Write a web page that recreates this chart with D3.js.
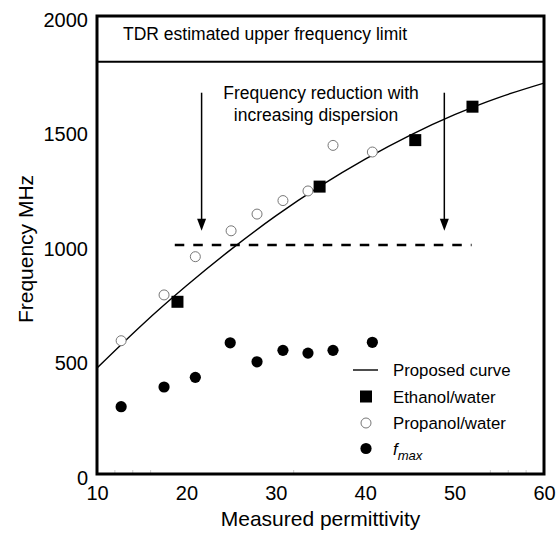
<!DOCTYPE html>
<html>
<head>
<meta charset="utf-8">
<script src="https://cdn.jsdelivr.net/npm/d3@7"></script>
<style>
  html, body { margin: 0; padding: 0; background: #fff; }
  svg { display: block; font-family: "Liberation Sans", Arial, Helvetica, sans-serif; }
</style>
</head>
<body>
<svg id="chart" width="560" height="537"></svg>
<script>
// ---- data ----
const xTicks = [10, 20, 30, 40, 50, 60];
const yTicks = [0, 500, 1000, 1500, 2000];
const xMinorTicks = [12, 14, 16, 32, 54, 56, 58];

// Proposed curve
const curveX = [10, 15, 20, 25, 30, 35, 40, 45, 50, 55, 60];
const curveY = [463, 650, 822, 981, 1127, 1258, 1375, 1479, 1569, 1645, 1707];

// Ethanol/water
const ethanolX = [19.0, 34.9, 45.6, 52.0];
const ethanolY = [752, 1255, 1458, 1604];

// Propanol/water
const propanolX = [12.7, 17.5, 21.0, 25.0, 27.9, 30.8, 33.6, 36.4, 40.8];
const propanolY = [582, 782, 949, 1062, 1135, 1194, 1236, 1435, 1406];

// f_max
const fmaxX = [12.7, 17.5, 21.0, 24.9, 27.9, 30.8, 33.6, 36.4, 40.8];
const fmaxY = [294, 380, 422, 573, 490, 540, 528, 540, 575];

// annotations
const tdrLimit = 1800;
const dashLevel = 1000;
const dashRange = [18.7, 51.9];
const arrowX = [21.7, 48.85];
const arrowTop = 1665;
const arrowTip = 1062;
const legendLabels = ["Proposed curve", "Ethanol/water", "Propanol/water", "f"];

// ---- layout ----
const W = 560, H = 537;
const margin = {left: 97, top: 16, right: 16, bottom: 63};
const svg = d3.select("#chart");
const x = d3.scaleLinear().domain([10, 60]).range([margin.left, W - margin.right]);
const y = d3.scaleLinear().domain([0, 2000]).range([H - margin.bottom, margin.top]);

const FS_TICK = 20, FS_TITLE = 21, FS_ANN = 17.5, FS_LEG = 16.8;

// clip
svg.append("clipPath").attr("id", "plotclip").append("rect")
  .attr("x", x(10)).attr("y", y(2000)).attr("width", x(60) - x(10)).attr("height", y(0) - y(2000));

// ---- axes ----
const yAxis = svg.append("g").attr("transform", `translate(${x(10)},0)`)
  .call(d3.axisLeft(y).tickValues(yTicks).tickSize(0).tickPadding(9).tickFormat(d3.format("d")));
yAxis.select(".domain").remove();
yAxis.selectAll("text").attr("font-size", FS_TICK).attr("font-family", "Liberation Sans, Arial, sans-serif")
  .attr("fill", "#000").attr("dy", "0.5em");

const xAxis = svg.append("g").attr("transform", `translate(0,${y(0)})`)
  .call(d3.axisBottom(x).tickValues(xTicks).tickSize(0).tickPadding(11).tickFormat(d3.format("d")));
xAxis.select(".domain").remove();
xAxis.selectAll("text").attr("font-size", FS_TICK).attr("font-family", "Liberation Sans, Arial, sans-serif")
  .attr("fill", "#000").attr("dy", "0.75em");

// minor inward ticks (faint)
svg.append("g").selectAll("line").data(xMinorTicks).join("line")
  .attr("x1", d => x(d)).attr("x2", d => x(d))
  .attr("y1", y(0) - 1).attr("y2", y(0) - 4)
  .attr("stroke", "#ccc").attr("stroke-width", 1);

// frame
svg.append("rect")
  .attr("x", x(10)).attr("y", y(2000))
  .attr("width", x(60) - x(10)).attr("height", y(0) - y(2000))
  .attr("fill", "none").attr("stroke", "#000").attr("stroke-width", 3);

// TDR limit line
svg.append("line")
  .attr("x1", x(10)).attr("x2", x(60)).attr("y1", y(tdrLimit)).attr("y2", y(tdrLimit))
  .attr("stroke", "#000").attr("stroke-width", 2);
svg.append("text").attr("x", 123).attr("y", 40)
  .attr("font-size", FS_ANN).text("TDR estimated upper frequency limit");

// axis titles
svg.append("text").attr("x", (x(10) + x(60)) / 2).attr("y", 526)
  .attr("text-anchor", "middle").attr("font-size", FS_TITLE).text("Measured permittivity");
svg.append("text")
  .attr("transform", `translate(33,${(y(0) + y(2000)) / 2 + 4}) rotate(-90)`)
  .attr("text-anchor", "middle").attr("font-size", FS_TITLE).text("Frequency MHz");

// annotation text
svg.append("text").attr("x", 321).attr("y", 99).attr("text-anchor", "middle")
  .attr("font-size", FS_ANN).text("Frequency reduction with");
svg.append("text").attr("x", 316).attr("y", 121).attr("text-anchor", "middle")
  .attr("font-size", FS_ANN).text("increasing dispersion");

// arrows
const arrows = svg.append("g");
arrowX.forEach(ax => {
  arrows.append("line")
    .attr("x1", x(ax)).attr("x2", x(ax)).attr("y1", y(arrowTop)).attr("y2", y(arrowTip) - 8)
    .attr("stroke", "#000").attr("stroke-width", 1.5);
  arrows.append("path")
    .attr("d", `M${x(ax) - 4.5},${y(arrowTip) - 12} L${x(ax) + 4.5},${y(arrowTip) - 12} L${x(ax)},${y(arrowTip)} Z`)
    .attr("fill", "#000");
});

// dashed line
svg.append("line")
  .attr("x1", x(dashRange[0])).attr("x2", x(dashRange[1]))
  .attr("y1", y(dashLevel)).attr("y2", y(dashLevel))
  .attr("stroke", "#000").attr("stroke-width", 2.6).attr("stroke-dasharray", "9.5,9");

// proposed curve
const curvePts = curveX.map((d, i) => [d, curveY[i]]);
svg.append("path").datum(curvePts)
  .attr("clip-path", "url(#plotclip)")
  .attr("d", d3.line().x(d => x(d[0])).y(d => y(d[1])).curve(d3.curveNatural))
  .attr("fill", "none").attr("stroke", "#000").attr("stroke-width", 1.4);

// propanol open circles
svg.append("g").selectAll("circle").data(propanolX.map((d, i) => [d, propanolY[i]])).join("circle")
  .attr("cx", d => x(d[0])).attr("cy", d => y(d[1])).attr("r", 5)
  .attr("fill", "#fff").attr("stroke", "#777").attr("stroke-width", 1);

// ethanol squares
svg.append("g").selectAll("rect").data(ethanolX.map((d, i) => [d, ethanolY[i]])).join("rect")
  .attr("x", d => x(d[0]) - 6).attr("y", d => y(d[1]) - 6).attr("width", 12).attr("height", 12)
  .attr("fill", "#000");

// fmax filled circles
svg.append("g").selectAll("circle").data(fmaxX.map((d, i) => [d, fmaxY[i]])).join("circle")
  .attr("cx", d => x(d[0])).attr("cy", d => y(d[1])).attr("r", 5.6)
  .attr("fill", "#000");

// legend
const lg = svg.append("g");
const lgSymX = 366, lgTextX = 393, lgY = [370, 396.5, 423, 448.5];
lg.append("line").attr("x1", 353).attr("x2", 378).attr("y1", lgY[0]).attr("y2", lgY[0])
  .attr("stroke", "#000").attr("stroke-width", 1.4);
lg.append("rect").attr("x", lgSymX - 6).attr("y", lgY[1] - 6).attr("width", 12).attr("height", 12).attr("fill", "#000");
lg.append("circle").attr("cx", lgSymX).attr("cy", lgY[2]).attr("r", 5)
  .attr("fill", "#fff").attr("stroke", "#777").attr("stroke-width", 1);
lg.append("circle").attr("cx", lgSymX).attr("cy", lgY[3]).attr("r", 5.6).attr("fill", "#000");
legendLabels.forEach((t, i) => {
  const tx = lg.append("text").attr("x", lgTextX).attr("y", lgY[i] + 6).attr("font-size", FS_LEG);
  if (i === 3) {
    tx.append("tspan").attr("font-style", "italic").text("f");
    tx.append("tspan").attr("font-style", "italic").attr("font-size", FS_LEG * 0.78).attr("dy", 5).text("max");
  } else {
    tx.text(t);
  }
});
</script>
</body>
</html>
